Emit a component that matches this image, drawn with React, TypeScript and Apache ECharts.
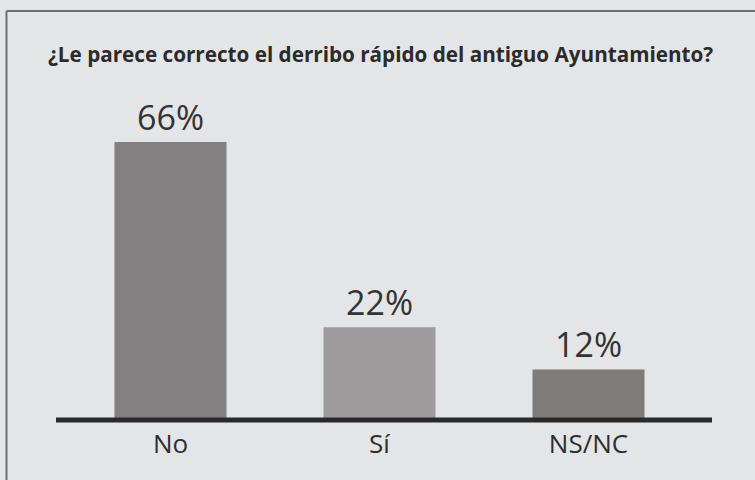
import React, { useEffect, useRef } from "react";
import * as echarts from "echarts";

const categories = ["No", "Sí", "NS/NC"];
const values = [66, 22, 12];
const barColors = ["#828080", "#9d9b9b", "#7e7b7b"];
const titleText = "¿Le parece correcto el derribo rápido del antiguo Ayuntamiento?";

export default function App() {
  const ref = useRef<HTMLDivElement>(null);
  useEffect(() => {
    const chart = echarts.init(ref.current!, null, { renderer: "svg" });
    chart.setOption({
      animation: false,
      backgroundColor: "#e4e5e6",
      grid: { left: 66, right: 62, top: 83, bottom: 60 },
      xAxis: {
        type: "category",
        data: categories,
        axisLine: { show: false },
        axisTick: { show: false },
        axisLabel: { fontSize: 26, color: "#2e2e2e", fontFamily: "Open Sans", margin: 10 },
      },
      yAxis: { type: "value", min: 0, max: 80, show: false },
      series: [
        {
          type: "bar",
          data: values.map((v, i) => ({ value: v, itemStyle: { color: barColors[i] } })),
          barWidth: 112,
          label: {
            show: true,
            position: "top",
            formatter: "{c}%",
            fontSize: 34,
            color: "#333",
            fontFamily: "Open Sans",
            distance: 8,
          },
        },
      ],
      graphic: [
        { type: "line", shape: { x1: 6.5, y1: 11, x2: 755, y2: 11 }, style: { stroke: "#6f6f6f", lineWidth: 2 } },
        { type: "line", shape: { x1: 6.5, y1: 11, x2: 6.5, y2: 480 }, style: { stroke: "#6f6f6f", lineWidth: 2 } },
        { type: "line", z: 100, shape: { x1: 56, y1: 420, x2: 712, y2: 420 }, style: { stroke: "#2a2a2a", lineWidth: 5 } },
        {
          type: "text",
          x: 48,
          y: 53,
          scaleX: 0.94,
          style: {
            text: titleText,
            fontSize: 22,
            fontWeight: "bold",
            fontFamily: "Open Sans",
            fill: "#2b2b2b",
            verticalAlign: "middle",
          },
        },
      ],
    });
    return () => chart.dispose();
  }, []);
  return <div ref={ref} style={{ position: "fixed", left: 0, top: 0, width: 755, height: 480 }} />;
}
